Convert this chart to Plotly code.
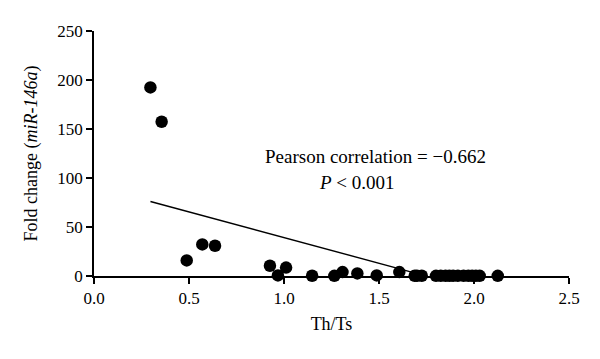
import plotly.graph_objects as go

# Data
th_ts = [0.297, 0.356, 0.488, 0.570, 0.637, 0.926, 0.968, 1.011, 1.148, 1.265, 1.308,
         1.386, 1.488, 1.607, 1.688, 1.700, 1.725, 1.800, 1.825, 1.850, 1.870, 1.890,
         1.915, 1.945, 1.970, 1.990, 2.010, 2.030, 2.125]
fold_change = [192.4, 157.4, 15.9, 32.2, 30.9, 10.5, 0.6, 8.6, 0.3, 0.2, 4.0,
               2.6, 0.6, 4.0, 0.3, 0.3, 0.3, 0.2, 0.2, 0.2, 0.2, 0.2,
               0.2, 0.2, 0.2, 0.2, 0.2, 0.2, 0.2]

fit_intercept = 91.6
fit_slope = -52.4
fit_x = [0.297, 1.72]
fit_y = [fit_intercept + fit_slope * v for v in fit_x]

x_ticks = [0.0, 0.5, 1.0, 1.5, 2.0, 2.5]
x_tick_labels = ["0.0", "0.5", "1.0", "1.5", "2.0", "2.5"]
y_ticks = [0, 50, 100, 150, 200, 250]

FONT = "Liberation Serif"

fig = go.Figure()
fig.add_trace(go.Scatter(x=fit_x, y=fit_y, mode="lines",
                         line=dict(color="black", width=1.4), showlegend=False))
fig.add_trace(go.Scatter(x=th_ts, y=fold_change, mode="markers",
                         marker=dict(color="black", size=12.5), showlegend=False,
                         cliponaxis=False))

fig.update_layout(
    width=584, height=343,
    margin=dict(l=86, r=23, t=23, b=75),
    paper_bgcolor="white", plot_bgcolor="white",
    font=dict(family=FONT, size=17, color="black"),
    xaxis=dict(range=[0, 2.5], tickvals=x_ticks, ticktext=x_tick_labels,
               showline=True, linecolor="black", linewidth=1.6,
               ticks="outside", ticklen=6, tickwidth=1.6, tickcolor="black",
               showgrid=False, zeroline=False, automargin=False,
               title=dict(text="Th/Ts", font=dict(family=FONT, size=18), standoff=10)),
    yaxis=dict(range=[0, 250], tickvals=y_ticks,
               showline=True, linecolor="black", linewidth=1.6,
               ticks="outside", ticklen=6, tickwidth=1.6, tickcolor="black",
               showgrid=False, zeroline=False, automargin=False,
               title=dict(text="Fold change (<i>miR-146a</i>)", font=dict(family=FONT, size=18), standoff=15)),
)
fig.add_annotation(x=1.484, y=121.5, xref="x", yref="y", text="Pearson correlation = −0.662",
                   showarrow=False, font=dict(family=FONT, size=19, color="black"))
fig.add_annotation(x=1.384, y=95, xref="x", yref="y", text="<i>P</i> < 0.001",
                   showarrow=False, font=dict(family=FONT, size=19, color="black"))

fig.write_html("out.html")
